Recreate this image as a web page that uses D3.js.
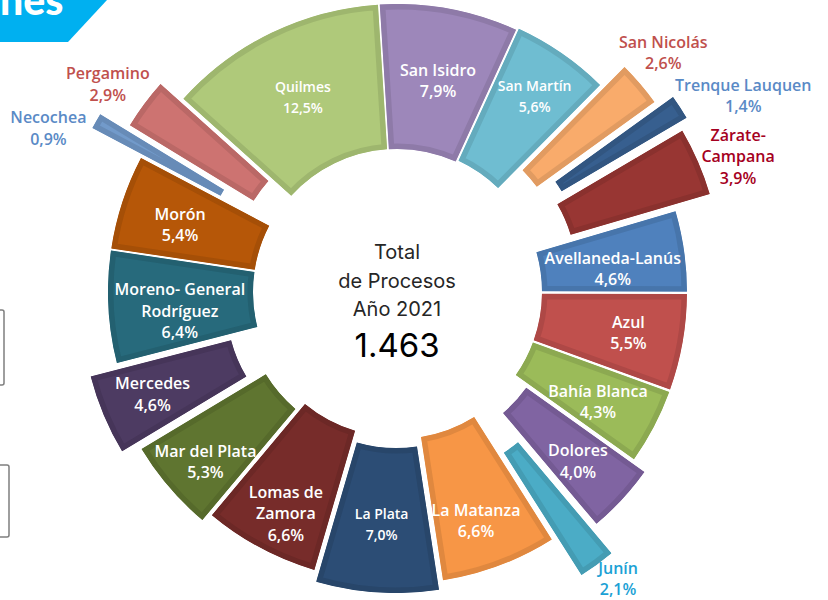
<!DOCTYPE html>
<html>
<head>
<meta charset="utf-8">
<script src="https://cdn.jsdelivr.net/npm/d3@7"></script>
<style>
  body { margin: 0; background: #fff; }
  svg { display: block; }
</style>
</head>
<body>
<svg id="chart"></svg>
<script>
(function () {
  'use strict';

  // data (alphabetical order, as in the source sheet)
  var categories = [
    'Avellaneda-Lanús', 'Azul', 'Bahía Blanca', 'Dolores', 'Junín',
    'La Matanza', 'La Plata', 'Lomas de\nZamora', 'Mar del Plata', 'Mercedes',
    'Moreno- General\nRodríguez', 'Morón', 'Necochea', 'Pergamino', 'Quilmes',
    'San Isidro', 'San Martín', 'San Nicolás', 'Trenque Lauquen', 'Zárate-\nCampana'
  ];
  var values = [4.6, 5.5, 4.3, 4.0, 2.1, 6.6, 7.0, 6.6, 5.3, 4.6,
                6.4, 5.4, 0.9, 2.9, 12.5, 7.9, 5.6, 2.6, 1.4, 3.9];
  var colors = [
    '#4f81bd', '#c0504d', '#9bbb59', '#8064a2', '#4bacc6',
    '#f79646', '#2c4d75', '#772c2a', '#5f7530', '#4d3b62',
    '#276a7c', '#b65708', '#729aca', '#cd7371', '#afc97a',
    '#9d87ba', '#6fbdd1', '#f9ab6b', '#375f8f', '#983633'
  ];
  var centerLines = ['Total', 'de Procesos', 'Año 2021'];
  var total = 1463;

  // layout: how far each slice is pulled out, where its label sits
  var explode = [2, 2, 2, 18, 50, 4, 13, 2, 12, 30,
                 1, 1, 58, 27, 0, 0, 2, 32, 50, 40];
  var labelR = [217, 235, 229, 248, 362, 242, 233, 248, 256, 265,
                218, 227, 385, 356, 216, 215, 239, 358, 398, 367];
  var labelShift = [2, 0, 1, 0.5, -1.4, 1.5, 0, -1.5, -1, 0,
                    -2, -1, -4.5, -1, 0, 0.5, 0.5, -1.4, 3.6, 1.8];
  var labelSize = [16, 16, 16, 16, 16, 16, 14, 16, 16, 16,
                   16, 16, 16, 16, 14, 16, 14, 16, 16, 16];
  // null = white label inside the slice
  var outsideColor = [null, null, null, null, '#1ba1d5', null, null, null, null, null,
                      null, null, '#5a8ac6', '#c0504d', null, null, null, '#c0504d', '#5a8ac6', '#a50021'];

  var width = 828;
  var height = 600;
  var cx = 397;
  var cy = 292;
  var innerR = 143;
  var outerR = 288;
  var rotation = 73.6 * Math.PI / 180;

  var loc = d3.formatLocale({decimal: ',', thousands: '.', grouping: [3], currency: ['', '']});
  var pct = loc.format('.1f');
  var num = loc.format(',');

  var svg = d3.select('#chart')
    .attr('width', width)
    .attr('height', height);

  // header banner (cut at the top of the page)
  svg.append('path')
    .attr('d', 'M0,0 L107,0 L68,42 L0,42 Z')
    .attr('fill', '#00b0f0');
  svg.append('text')
    .attr('x', 0)
    .attr('y', 15)
    .attr('font-family', 'Lato, sans-serif')
    .attr('font-weight', 900)
    .attr('font-size', 41)
    .attr('fill', '#fff')
    .text('nes');

  // two boxes half off the left edge
  svg.append('rect')
    .attr('x', -20).attr('y', 310).attr('width', 24).attr('height', 75).attr('rx', 2)
    .attr('fill', 'none').attr('stroke', '#7f7f7f').attr('stroke-width', 1.5);
  svg.append('rect')
    .attr('x', -15).attr('y', 465).attr('width', 24).attr('height', 72).attr('rx', 2)
    .attr('fill', 'none').attr('stroke', '#7f7f7f').attr('stroke-width', 1.5);

  var rows = categories.map(function (c, i) {
    return {name: c, value: values[i], i: i};
  });

  var pie = d3.pie()
    .value(function (d) { return d.value; })
    .sort(null)
    .startAngle(rotation)
    .endAngle(rotation + 2 * Math.PI)
    .padAngle(0.006);

  var arc = d3.arc()
    .innerRadius(innerR)
    .outerRadius(outerR)
    .padRadius(300);

  var arcs = pie(rows);

  var g = svg.append('g')
    .attr('transform', 'translate(' + cx + ',' + cy + ')');

  var defs = svg.append('defs');
  defs.selectAll('clipPath')
    .data(arcs)
    .enter()
    .append('clipPath')
    .attr('id', function (d) { return 'slice-' + d.data.i; })
    .append('path')
    .attr('d', arc);

  function mid(d) {
    return (d.startAngle + d.endAngle) / 2;
  }

  var slices = g.selectAll('.slice')
    .data(arcs)
    .enter()
    .append('g')
    .attr('class', 'slice')
    .attr('transform', function (d) {
      var a = mid(d);
      var off = explode[d.data.i];
      return 'translate(' + (off * Math.sin(a)) + ',' + (-off * Math.cos(a)) + ')';
    });

  // darker rim drawn inside the slice only
  slices.append('path')
    .attr('d', arc)
    .attr('fill', function (d) { return colors[d.data.i]; })
    .attr('stroke', function (d) { return d3.color(colors[d.data.i]).darker(0.28); })
    .attr('stroke-width', 11)
    .attr('clip-path', function (d) { return 'url(#slice-' + d.data.i + ')'; });

  // labels
  var labels = g.selectAll('.label')
    .data(arcs)
    .enter()
    .append('text')
    .attr('class', 'label')
    .attr('text-anchor', 'middle')
    .attr('font-family', '"Open Sans", sans-serif')
    .attr('font-weight', 600)
    .attr('font-size', function (d) { return labelSize[d.data.i]; })
    .attr('fill', function (d) { return outsideColor[d.data.i] || '#fff'; })
    .attr('transform', function (d) {
      var a = mid(d) + labelShift[d.data.i] * Math.PI / 180;
      var r = labelR[d.data.i];
      return 'translate(' + (r * Math.sin(a)) + ',' + (-r * Math.cos(a)) + ')';
    });

  labels.each(function (d) {
    var lines = d.data.name.split('\n').concat([pct(d.data.value) + '%']);
    var lh = 21.5;
    d3.select(this)
      .selectAll('tspan')
      .data(lines)
      .enter()
      .append('tspan')
      .attr('x', 0)
      .attr('y', function (t, k) { return (k - (lines.length - 1) / 2) * lh; })
      .attr('dy', '0.35em')
      .text(function (t) { return t; });
  });

  // centre text
  var center = g.append('g')
    .attr('font-family', 'Inter, sans-serif')
    .attr('text-anchor', 'middle');
  center.selectAll('text.caption')
    .data(centerLines)
    .enter()
    .append('text')
    .attr('class', 'caption')
    .attr('y', function (t, k) { return -40 + k * 28.5; })
    .attr('dy', '0.35em')
    .attr('font-size', 20)
    .attr('fill', '#262626')
    .text(function (t) { return t; });
  center.append('text')
    .attr('y', 53)
    .attr('dy', '0.35em')
    .attr('font-size', 33)
    .attr('fill', '#000')
    .text(num(total));
}());
</script>
</body>
</html>
